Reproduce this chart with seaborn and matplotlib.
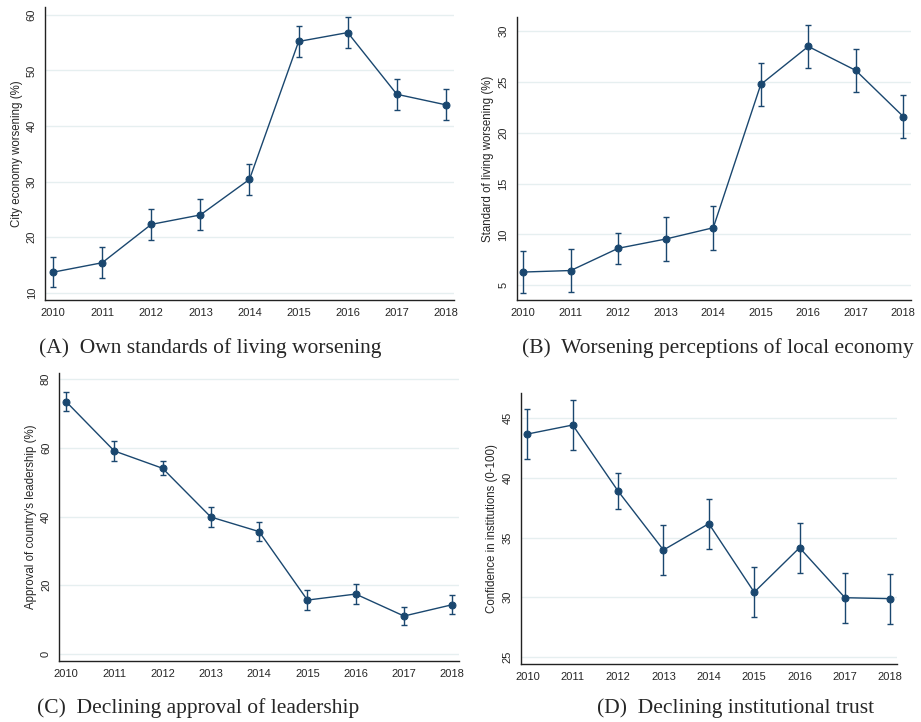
### Four-panel trend chart with error bars ###

import matplotlib.pyplot as plt
import seaborn as sns

years = [2010, 2011, 2012, 2013, 2014, 2015, 2016, 2017, 2018]

living_vals = [13.7, 15.4, 22.3, 24.0, 30.4, 55.2, 56.8, 45.7, 43.8]
living_err = [2.75, 2.8, 2.8, 2.8, 2.8, 2.8, 2.8, 2.8, 2.8]

economy_vals = [6.3, 6.45, 8.64, 9.55, 10.66, 24.76, 28.5, 26.14, 21.6]
economy_err = [2.1, 2.1, 1.55, 2.15, 2.15, 2.15, 2.15, 2.15, 2.15]

approval_vals = [73.5, 59.1, 54.05, 39.85, 35.6, 15.65, 17.4, 11.0, 14.3]
approval_err = [2.7, 2.8, 2.05, 2.85, 2.8, 2.8, 2.8, 2.7, 2.7]

trust_vals = [43.68, 44.44, 38.9, 33.96, 36.17, 30.42, 34.15, 29.96, 29.88]
trust_err = [2.07, 2.1, 1.5, 2.1, 2.1, 2.1, 2.1, 2.1, 2.1]

ylabels = [
    "City economy worsening (%)",
    "Standard of living worsening (%)",
    "Approval of country's leadership (%)",
    "Confidence in institutions (0-100)",
]
captions = [
    "(A)  Own standards of living worsening",
    "(B)  Worsening perceptions of local economy",
    "(C)  Declining approval of leadership",
    "(D)  Declining institutional trust",
]
yticks = [
    [10, 20, 30, 40, 50, 60],
    [5, 10, 15, 20, 25, 30],
    [0, 20, 40, 60, 80],
    [25, 30, 35, 40, 45],
]

NAVY = "#1a476f"
GRID = "#e6eff0"

sns.set_style("white")
plt.rcParams["font.family"] = ["Liberation Sans", "DejaVu Sans"]

fig = plt.figure(figsize=(9.21, 7.22), dpi=100)

boxes = [
    [0.0489, 0.5845, 0.444, 0.4058],
    [0.561, 0.5845, 0.4278, 0.392],
    [0.0644, 0.0845, 0.434, 0.3993],
    [0.5654, 0.0803, 0.4082, 0.375],
]
ylims = [(8.7, 61.4), (3.55, 31.4), (-2.1, 81.9), (24.4, 47.1)]
xlims = [(2009.837, 2018.163), (2009.861, 2018.156), (2009.862, 2018.14), (2009.855, 2018.14)]
caption_pos = [(210, 348), (718, 348), (198.5, 708), (735.5, 708)]

series = [
    (living_vals, living_err),
    (economy_vals, economy_err),
    (approval_vals, approval_err),
    (trust_vals, trust_err),
]

for i, (vals, errs) in enumerate(series):
    ax = fig.add_axes(boxes[i])
    ax.errorbar(
        years, vals, yerr=errs, fmt="none", ecolor=NAVY, elinewidth=1.0,
        capsize=2.3, capthick=1.0, zorder=2,
    )
    sns.lineplot(
        x=years, y=vals, ax=ax, color=NAVY, linewidth=1.0, marker="o",
        markersize=5, markeredgecolor=NAVY, markerfacecolor=NAVY, zorder=3,
    )
    ax.set_xlim(*xlims[i])
    ax.set_ylim(*ylims[i])
    ax.set_xticks(years)
    ax.set_yticks(yticks[i])
    ax.set_yticklabels([str(t) for t in yticks[i]], rotation=90, va="center")
    ax.yaxis.grid(True, color=GRID, linewidth=1.0)
    ax.xaxis.grid(False)
    for side in ["top", "right"]:
        ax.spines[side].set_visible(False)
    for side in ["left", "bottom"]:
        ax.spines[side].set_color("#222222")
        ax.spines[side].set_linewidth(1.0)
    ax.tick_params(axis="both", direction="out", length=4, width=0.8,
                   color="#222222", labelsize=8, pad=2)
    ax.set_ylabel(ylabels[i], fontsize=8.3, labelpad=3)
    ax.set_xlabel("")

    cx, cy = caption_pos[i]
    fig.text(
        cx / 921, 1 - cy / 722, captions[i], ha="center", va="center",
        fontsize=15.5, family=["Liberation Serif", "DejaVu Serif"],
    )

plt.savefig("out.png", dpi=100)
